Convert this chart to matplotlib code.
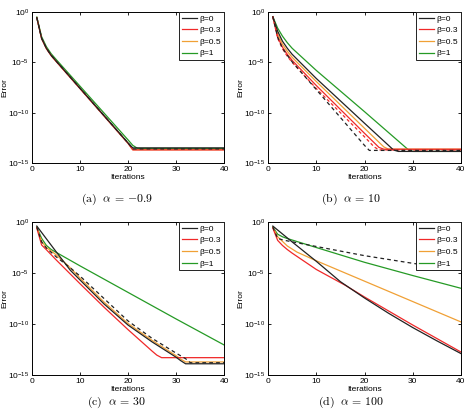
import numpy as np
import matplotlib
matplotlib.use('Agg')
from matplotlib import pyplot as plt
from matplotlib.ticker import NullLocator, LogFormatterMathtext

plt.rcParams['font.family'] = ['Liberation Sans', 'DejaVu Sans']

labels = ['β=0', 'β=0.3', 'β=0.5', 'β=1']
colors = ['#222222', '#f02828', '#f0a035', '#259a25']
captions = [r'$\mathrm{(a)}\ \ \alpha\,=\,{-}0.9$', r'$\mathrm{(b)}\ \ \alpha\,=\,10$',
            r'$\mathrm{(c)}\ \ \alpha\,=\,30$', r'$\mathrm{(d)}\ \ \alpha\,=\,100$']

# values are log10(error)
# (a) alpha = -0.9
a_x = [[1, 2, 3, 4, 5, 20, 21, 40],
       [1, 2, 3, 4, 5, 20, 21, 40],
       [1, 2, 3, 4, 5, 20, 21, 40],
       [1, 2, 3, 4, 5, 20, 21, 22, 40]]
a_y = [[-0.56, -2.6, -3.6, -4.3, -4.85, -13.0, -13.5, -13.5],
       [-0.56, -2.65, -3.65, -4.35, -4.9, -13.05, -13.7, -13.7],
       [-0.56, -2.62, -3.62, -4.32, -4.88, -13.02, -13.68, -13.68],
       [-0.5, -2.45, -3.45, -4.15, -4.7, -12.7, -13.25, -13.55, -13.55]]
a_dash_x = [1, 2, 3, 4, 5, 20, 21, 40]
a_dash_y = [-0.56, -2.6, -3.6, -4.3, -4.85, -13.0, -13.6, -13.6]

# (b) alpha = 10
b_x = [[1, 2, 3, 4, 5, 10, 20, 26, 27, 40],
       [1, 2, 3, 4, 5, 10, 20, 23, 24, 40],
       [1, 2, 3, 4, 5, 10, 20, 24, 25, 40],
       [1, 2, 3, 4, 5, 10, 20, 29, 30, 40]]
b_y = [[-0.47, -1.9, -2.9, -3.6, -4.2, -6.6, -11.05, -13.7, -13.85, -13.85],
       [-0.47, -2.5, -3.5, -4.2, -4.8, -7.3, -12.05, -13.45, -13.63, -13.63],
       [-0.47, -2.2, -3.2, -3.9, -4.5, -6.9, -11.55, -13.4, -13.63, -13.63],
       [-0.47, -1.6, -2.4, -3.05, -3.6, -5.8, -9.9, -13.65, -13.85, -13.85]]
b_dash_x = [1, 2, 3, 4, 5, 10, 20, 21, 40]
b_dash_y = [-0.47, -2.5, -3.6, -4.3, -4.95, -7.7, -13.25, -13.75, -13.75]
b_rdash_x = [1, 2, 3, 4, 5, 10, 20, 22, 23, 40]
b_rdash_y = [-0.47, -2.6, -3.65, -4.4, -5.0, -7.6, -12.4, -13.4, -13.7, -13.7]

# (c) alpha = 30
c_x = [[1, 5, 8, 10, 15, 20, 25, 30, 31, 32, 40],
       [1, 2, 3, 5, 10, 15, 20, 25, 26, 27, 40],
       [1, 2, 3, 5, 8, 10, 15, 20, 25, 30, 31, 32, 40],
       [1, 2, 3, 4, 10, 20, 30, 40]]
c_y = [[-0.4, -2.9, -4.74, -5.68, -8.03, -10.1, -11.75, -13.25, -13.6, -13.9, -13.9],
       [-0.6, -2.25, -2.72, -3.7, -6.05, -8.35, -10.55, -12.65, -13.05, -13.3, -13.3],
       [-0.5, -1.9, -2.5, -3.2, -4.5, -5.5, -7.85, -9.95, -11.6, -13.1, -13.45, -13.72, -13.72],
       [-0.5, -1.6, -2.3, -2.7, -4.3, -6.9, -9.5, -12.05]]
c_dash_x = [1, 2, 3, 5, 8, 10, 15, 20, 25, 30, 32, 33, 40]
c_dash_y = [-0.5, -1.95, -2.55, -3.4, -4.5, -5.3, -7.5, -9.7, -11.4, -12.85, -13.4, -13.8, -13.8]

# (d) alpha = 100
d_x = [[1, 5, 10, 15, 20, 25, 30, 35, 40],
       [1, 2, 3, 4, 5, 10, 16, 20, 30, 40],
       [1, 2, 3, 4, 6, 10, 20, 30, 40],
       [1, 2, 3, 4, 10, 20, 30, 40]]
d_y = [[-0.4, -1.95, -3.85, -5.85, -7.45, -8.95, -10.35, -11.65, -12.9],
       [-0.6, -1.8, -2.3, -2.7, -3.05, -4.65, -6.2, -7.35, -10.1, -12.75],
       [-0.5, -1.45, -1.9, -2.35, -2.95, -3.8, -5.8, -7.8, -9.8],
       [-0.5, -1.2, -1.45, -1.62, -2.5, -3.95, -5.25, -6.5]]
d_dash_x = [1, 2, 3, 4, 10, 20, 30, 40]
d_dash_y = [-0.5, -1.6, -1.75, -1.85, -2.4, -3.3, -4.05, -4.75]

panels = [(a_x, a_y, a_dash_x, a_dash_y, None),
          (b_x, b_y, b_dash_x, b_dash_y, (b_rdash_x, b_rdash_y)),
          (c_x, c_y, c_dash_x, c_dash_y, None),
          (d_x, d_y, d_dash_x, d_dash_y, None)]

W, H = 468, 418
fig = plt.figure(figsize=(W / 100, H / 100), dpi=100)

# axes boxes in pixels: left, top, right, bottom
boxes = [(32, 12, 224, 163), (268, 12, 461, 163),
         (32, 222, 224, 375), (268, 222, 461, 375)]
cap_pos = [(117, 199), (351, 199), (117, 402), (351, 402)]

for k, (xs, ys, dx, dy, extra) in enumerate(panels):
    l, t, r, b = boxes[k]
    ax = fig.add_axes([l / W, 1 - b / H, (r - l) / W, (b - t) / H])
    for i in [3, 2, 1, 0]:
        ax.plot(xs[i], 10.0 ** np.array(ys[i]), color=colors[i], lw=0.9)
    if extra is not None:
        ax.plot(extra[0], 10.0 ** np.array(extra[1]), color=colors[1], lw=0.9,
                ls=(0, (2.5, 2)))
    ax.plot(dx, 10.0 ** np.array(dy), color='#222222', lw=0.9, ls=(0, (3, 2.5)))

    ax.set_yscale('log')
    ax.set_xlim(0, 40)
    ax.set_ylim(1e-15, 1e0)
    ax.set_xticks([0, 10, 20, 30, 40])
    ax.set_yticks([1e0, 1e-5, 1e-10, 1e-15])
    ax.yaxis.set_major_formatter(LogFormatterMathtext())
    ax.yaxis.set_minor_locator(NullLocator())
    ax.tick_params(direction='in', top=True, right=True, length=2.5, width=0.6,
                   labelsize=6, pad=2)
    for s in ax.spines.values():
        s.set_linewidth(0.7)
    ax.set_xlabel('Iterations', fontsize=6, labelpad=1)
    ax.set_ylabel('Error', fontsize=6)
    ax.yaxis.set_label_coords(-23.5 / (r - l), 0.5)

    handles = [plt.Line2D([], [], color=c, lw=0.9) for c in colors]
    leg = ax.legend(handles, labels, loc='upper right', fontsize=6, borderaxespad=0,
                    fancybox=False, framealpha=1, edgecolor='#222222',
                    handlelength=1.8, handletextpad=0.3, labelspacing=0.45,
                    borderpad=0.35)
    leg.get_frame().set_linewidth(0.7)

    cx, cy = cap_pos[k]
    fig.text(cx / W, 1 - cy / H, captions[k], ha='center', va='center', fontsize=8.5,
             math_fontfamily='cm')

fig.savefig('out.png', dpi=100)
